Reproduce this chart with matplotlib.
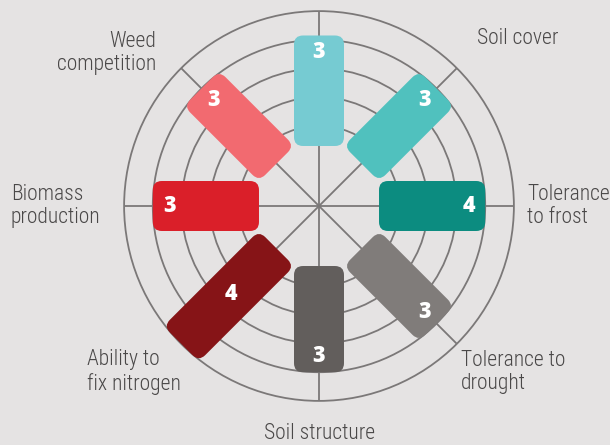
import numpy as np
import matplotlib
matplotlib.use("Agg")
import matplotlib.pyplot as plt
from matplotlib.patches import FancyBboxPatch, Circle
from matplotlib.transforms import Affine2D
from matplotlib import font_manager as fm

# ---------------- data ----------------
categories = ["", "Soil cover", "Tolerance\nto frost", "Tolerance to\ndrought",
              "Soil structure", "Ability to\nfix nitrogen", "Biomass\nproduction",
              "Weed\ncompetition"]
scores = [3, 3, 4, 3, 3, 4, 3, 3]
bar_reach = [4.15, 4, 4, 4, 4, 5, 4, 4]       # ring reached by each drawn bar
colors = ["#76cbd2", "#50c1be", "#0c8c80", "#807c7a",
          "#625e5c", "#861417", "#da1f29", "#f26a70"]
ring_levels = [1, 2, 3, 4, 5]

# ---------------- style / layout ----------------
BG = "#e5e3e3"
LINE = "#7b7878"
TXT = "#4a4848"
PX = 28.7                 # pixels per ring unit
ORIGIN = 51.4 / PX        # hole radius in ring units
BAR_START = 0.3
BAR_W = 50 / PX
ROUND = 9 / PX


def _w(f):
    w = f.weight
    if isinstance(w, str):
        w = fm.weight_dict.get(w, 400)
    return w


def pick_font(cands):
    for name, lo, hi in cands:
        for f in fm.fontManager.ttflist:
            if f.name == name and lo <= _w(f) <= hi and f.style == "normal":
                return fm.FontProperties(fname=f.fname)
    return fm.FontProperties(family="DejaVu Sans")


label_fp = pick_font([("Open Sans Condensed", 250, 350),
                      ("Liberation Sans Narrow", 350, 450),
                      ("Roboto Condensed", 250, 350),
                      ("Roboto Condensed", 350, 450),
                      ("Open Sans", 250, 350),
                      ("Open Sans", 350, 450)])
label_fp.set_size(15.5)
value_fp = pick_font([("Open Sans", 760, 850), ("Open Sans", 650, 760),
                      ("DejaVu Sans", 650, 850)])
value_fp.set_size(15.5)

fig = plt.figure(figsize=(6.10, 4.45), dpi=100, facecolor=BG)
ax = fig.add_axes([0, 0, 1, 1])
ax.set_facecolor(BG)
ax.set_xlim(-319 / PX, 291 / PX)
ax.set_ylim(-239 / PX, 206 / PX)
ax.set_aspect("equal")
ax.axis("off")

n = len(categories)
angles = 90 - np.arange(n) * 360 / n    # clockwise from top

# rings
for lv in ring_levels:
    ax.add_patch(Circle((0, 0), ORIGIN + lv, fill=False, ec=LINE, lw=1.3, zorder=1))
# spokes
rmax = ORIGIN + max(ring_levels)
for a in angles:
    t = np.deg2rad(a)
    ax.plot([0, rmax * np.cos(t)], [0, rmax * np.sin(t)], color=LINE, lw=1.3,
            zorder=1, solid_capstyle="butt")

# bars
for a, reach, c, s in zip(angles, bar_reach, colors, scores):
    r0 = ORIGIN + BAR_START
    r1 = ORIGIN + reach
    p = FancyBboxPatch((r0, -BAR_W / 2), r1 - r0, BAR_W,
                       boxstyle=f"round,pad=0,rounding_size={ROUND}",
                       fc=c, ec="none", zorder=3)
    p.set_transform(Affine2D().rotate_deg(a) + ax.transData)
    ax.add_patch(p)
    if reach > 4.5:
        lr = (r0 + r1) / 2 - 0.1
    else:
        lr = r1 - 0.58
    t = np.deg2rad(a)
    ax.text(lr * np.cos(t), lr * np.sin(t), str(s), color="white",
            fontproperties=value_fp, ha="center", va="center", zorder=4)

# category labels (anchor offsets in px from centre, y up)
label_layout = {
    1: (158, 168, "left", "center"),
    2: (208, 0, "left", "center"),
    3: (142, -166, "left", "center"),
    4: (1, -238, "center", "bottom"),
    5: (-232, -166, "left", "center"),
    6: (-308, 0, "left", "center"),
    7: (-163, 153, "right", "center"),
}
for i, lab in enumerate(categories):
    if not lab or i not in label_layout:
        continue
    dx, dy, ha, va = label_layout[i]
    ax.text(dx / PX, dy / PX, lab, color=TXT, fontproperties=label_fp,
            ha=ha, va=va, multialignment=ha, linespacing=1.12, zorder=5)

fig.savefig("out.png", dpi=100, facecolor=BG)
